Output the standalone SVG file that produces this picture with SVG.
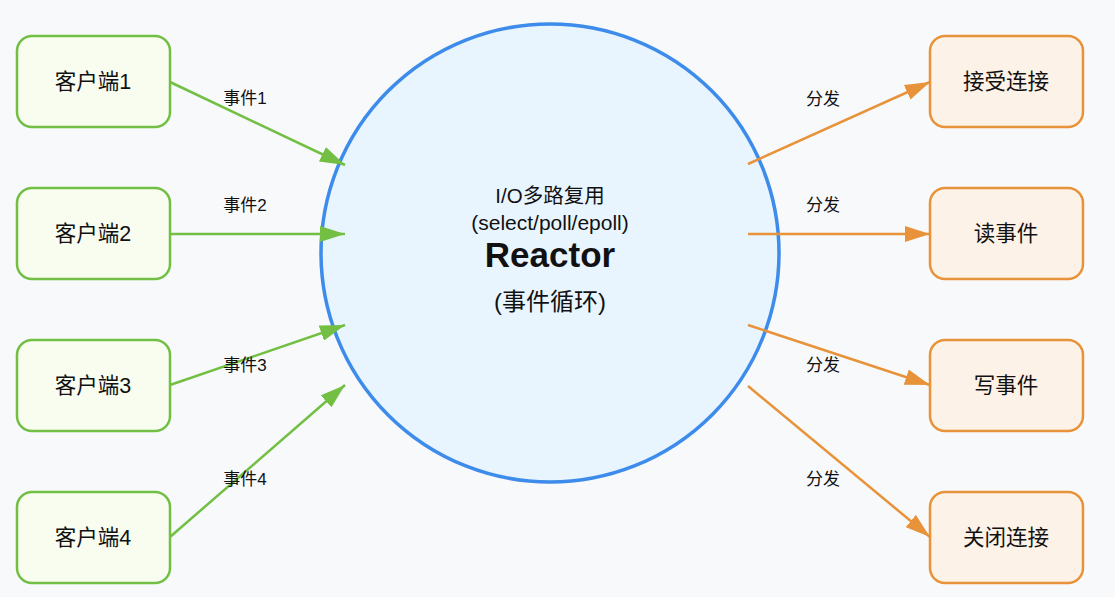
<svg xmlns="http://www.w3.org/2000/svg" width="1115" height="611" viewBox="0 0 1115 611">
<style>
.t{font-family:"Liberation Sans","Noto Sans CJK SC",sans-serif;fill:#111;text-anchor:middle}
.cl{fill:#f8fdf0;stroke:#72bf44;stroke-width:2.5}
.hd{fill:#fdf2e7;stroke:#e8923a;stroke-width:2.5}
.g{stroke:#72bf44;stroke-width:2.5;fill:none}
.o{stroke:#e8923a;stroke-width:2.5;fill:none}
.bt{font-size:21.5px}
.lb{font-size:17px}
</style>
<defs>
<marker id="mg" markerWidth="26" markerHeight="16" refX="25" refY="8" orient="auto" markerUnits="userSpaceOnUse"><path d="M0,0 L25,8 L0,16 z" fill="#72bf44"/></marker>
<marker id="mo" markerWidth="26" markerHeight="16" refX="25" refY="8" orient="auto" markerUnits="userSpaceOnUse"><path d="M0,0 L25,8 L0,16 z" fill="#e8923a"/></marker>
</defs>
<rect width="1115" height="611" fill="#ffffff"/>
<rect width="1115" height="597" fill="#f7f9fb"/>
<g id="reactor">
<circle cx="550" cy="253" r="229" fill="#e9f5fe" stroke="#3d8bea" stroke-width="3.5"/>
<text class="t" x="550" y="203" font-size="20.5">I/O多路复用</text>
<text class="t" x="550" y="230" font-size="21">(select/poll/epoll)</text>
<text class="t" x="550" y="267" font-size="35" font-weight="bold">Reactor</text>
<text class="t" x="550" y="310" font-size="24">(事件循环)</text>
</g>
<g id="connectors">
<line class="g" x1="170" y1="82" x2="345" y2="165" marker-end="url(#mg)"/>
<line class="g" x1="170" y1="234" x2="345" y2="234" marker-end="url(#mg)"/>
<line class="g" x1="170" y1="385" x2="345" y2="325" marker-end="url(#mg)"/>
<line class="g" x1="170" y1="537" x2="345" y2="385" marker-end="url(#mg)"/>
<line class="o" x1="748" y1="164" x2="930" y2="82" marker-end="url(#mo)"/>
<line class="o" x1="748" y1="234" x2="930" y2="234" marker-end="url(#mo)"/>
<line class="o" x1="748" y1="325" x2="930" y2="385" marker-end="url(#mo)"/>
<line class="o" x1="748" y1="386" x2="930" y2="537" marker-end="url(#mo)"/>
<text class="t lb" x="245" y="104">事件1</text>
<text class="t lb" x="245" y="211">事件2</text>
<text class="t lb" x="245" y="371">事件3</text>
<text class="t lb" x="245" y="485">事件4</text>
<text class="t lb" x="823" y="105">分发</text>
<text class="t lb" x="823" y="211">分发</text>
<text class="t lb" x="823" y="371">分发</text>
<text class="t lb" x="823" y="485">分发</text>
</g>
<g id="client1"><rect class="cl" x="17" y="36" width="153" height="91" rx="15"/><text class="t bt" x="93" y="89">客户端1</text></g>
<g id="client2"><rect class="cl" x="17" y="188" width="153" height="91" rx="15"/><text class="t bt" x="93" y="241">客户端2</text></g>
<g id="client3"><rect class="cl" x="17" y="340" width="153" height="91" rx="15"/><text class="t bt" x="93" y="393">客户端3</text></g>
<g id="client4"><rect class="cl" x="17" y="492" width="153" height="91" rx="15"/><text class="t bt" x="93" y="545">客户端4</text></g>
<g id="accept"><rect class="hd" x="930" y="36" width="153" height="91" rx="15"/><text class="t bt" x="1006" y="89">接受连接</text></g>
<g id="read"><rect class="hd" x="930" y="188" width="153" height="91" rx="15"/><text class="t bt" x="1006" y="241">读事件</text></g>
<g id="write"><rect class="hd" x="930" y="340" width="153" height="91" rx="15"/><text class="t bt" x="1006" y="393">写事件</text></g>
<g id="close"><rect class="hd" x="930" y="492" width="153" height="91" rx="15"/><text class="t bt" x="1006" y="545">关闭连接</text></g>
</svg>
